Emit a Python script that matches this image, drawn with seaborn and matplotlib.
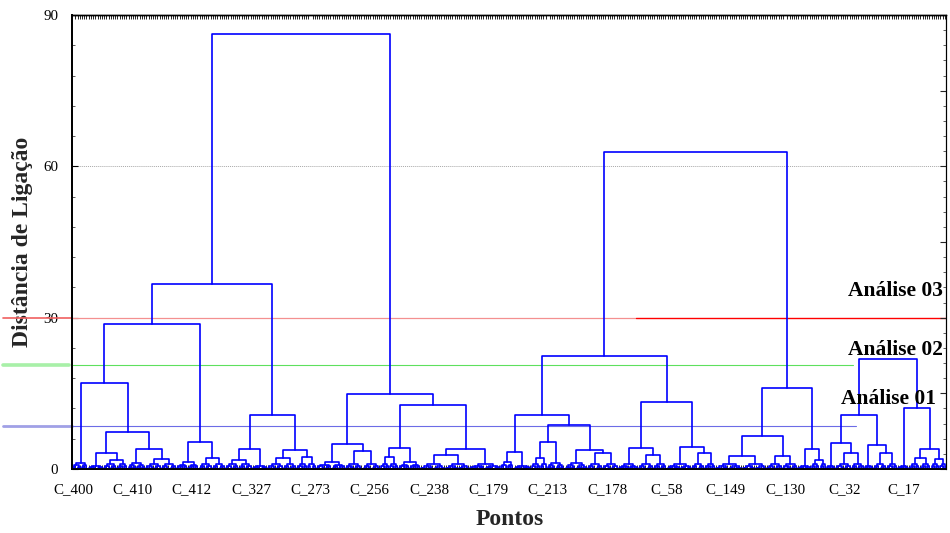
import numpy as np
import pandas as pd
import matplotlib
matplotlib.use("Agg")
import matplotlib.pyplot as plt
import matplotlib.transforms as mtransforms
import seaborn as sns

# ---------------- data ----------------
# internal node: [linkage height, left, right]; leaf group: (n_leaves, group height)
ROOT_HEIGHT = 86.2
LEFT_TREE = [36.7,
             [28.7,
              [17.0, (7, 1.2),
               [7.3,
                [3.2, (7, 0.6), (11, 1.8)],
                [4.0, (8, 1.2), (14, 2.0)]]],
              [5.4, (10, 1.4), (12, 2.2)]],
             [10.7,
              [4.0, (12, 1.8), (7, 0.6)],
              [3.8, (13, 2.2), (9, 2.4)]]]
MID_TREE = [14.9,
            [5.0, (13, 1.4), (16, 3.6)],
            [12.7,
             [4.2, (8, 2.4), (10, 1.4)],
             [4.0, (22, 2.8), (14, 1.0)]]]
RIGHT_TREE = [62.8,
              [22.4,
               [10.7,
                [3.4, (6, 1.4), (8, 0.6)],
                [8.7,
                 [5.4, (7, 2.2), (8, 1.2)],
                 [3.8, (10, 1.2), (14, 3.2)]]],
               [13.3,
                [4.2, (9, 1.0), (13, 2.8)],
                [4.4, (11, 1.0), (11, 3.2)]]],
              [16.1,
               [6.5, (23, 2.6), (14, 2.6)],
               [4.0, (6, 0.6), (7, 1.8)]]]
EDGE_TREE = [21.8,
             [10.7,
              [5.2, (4, 0.6), (13, 3.2)],
              [4.8, (4, 0.6), (11, 3.2)]],
             [12.1, (5, 0.6),
              [4.0, (10, 2.2), (7, 2.0)]]]
SUB_HEIGHTS = [0.9, 0.5, 0.25, 0.12, 0.06]

TICK_LABELS = ["C_400", "C_410", "C_412", "C_327", "C_273", "C_256", "C_238",
               "C_179", "C_213", "C_178", "C_58", "C_149", "C_130", "C_32", "C_17"]
CUT_LEVELS = [30.0, 20.6, 8.5]
CUT_NAMES = ["Análise 03", "Análise 02", "Análise 01"]

# ---------------- build segments ----------------
segments = []
leaf_counter = [0]


def add_seg(xl, hl, xr, hr, h):
    sid = len(segments)
    segments.extend([(xl, hl, sid), (xl, h, sid), (xr, h, sid), (xr, hr, sid)])


def comb(n, h, depth):
    if n == 1:
        x = leaf_counter[0]
        leaf_counter[0] += 1
        return x, 0.0
    n1 = (n + 1) // 2
    ch = min(SUB_HEIGHTS[min(depth, len(SUB_HEIGHTS) - 1)], h * 0.6)
    xl, hl = comb(n1, ch, depth + 1)
    xr, hr = comb(n - n1, ch, depth + 1)
    add_seg(xl, hl, xr, hr, h)
    return (xl + xr) / 2.0, h


def draw(node):
    if isinstance(node, tuple):
        n, h = node
        return comb(n, h, 0)
    h, left, right = node
    xl, hl = draw(left)
    xr, hr = draw(right)
    add_seg(xl, hl, xr, hr, h)
    return (xl + xr) / 2.0, h


draw([ROOT_HEIGHT, LEFT_TREE, MID_TREE])
draw(RIGHT_TREE)
draw(EDGE_TREE)
n_leaves = leaf_counter[0]
df = pd.DataFrame(segments, columns=["x", "y", "seg"])

# ---------------- plot ----------------
sns.set_theme(style="white")
plt.rcParams["font.family"] = ["Liberation Serif", "DejaVu Serif"]

fig = plt.figure(figsize=(9.5, 5.33), dpi=100)
ax = fig.add_axes([72 / 950, 64 / 533, 874 / 950, 454 / 533])

# grid lines
for g in (30, 60):
    ax.axhline(g, color="#a8a8a8", lw=0.7, ls=(0, (1, 1)), zorder=0)

sns.lineplot(data=df, x="x", y="y", units="seg", estimator=None, sort=False,
             color="#0000ff", linewidth=1.2, ax=ax, legend=False, zorder=3)

ax.set_xlim(-0.5, n_leaves - 0.5)
ax.set_ylim(0, 90)

trans = mtransforms.blended_transform_factory(ax.transAxes, ax.transData)
# red (Análise 03)
ax.plot([-0.079, 0.0], [CUT_LEVELS[0]] * 2, color="#f06060", lw=1.2, transform=trans, clip_on=False, zorder=2)
ax.plot([0.0, 0.645], [CUT_LEVELS[0]] * 2, color="#f49090", lw=0.9, transform=trans, zorder=2)
ax.plot([0.645, 1.0], [CUT_LEVELS[0]] * 2, color="#ff0000", lw=1.0, transform=trans, zorder=2)
# green (Análise 02)
ax.plot([-0.079, -0.004], [CUT_LEVELS[1]] * 2, color="#a8f0a8", lw=2.6, transform=trans, clip_on=False, zorder=2)
ax.plot([0.0, 0.894], [CUT_LEVELS[1]] * 2, color="#5ee05e", lw=0.8, transform=trans, zorder=2)
# blue (Análise 01)
ax.plot([-0.079, 0.0], [CUT_LEVELS[2]] * 2, color="#a0a0e6", lw=2.0, transform=trans, clip_on=False, zorder=2)
ax.plot([0.0, 0.897], [CUT_LEVELS[2]] * 2, color="#6c6ce6", lw=0.8, transform=trans, zorder=2)

label_pos = [(0.9966, 35.3), (0.9966, 23.6), (0.9886, 13.9)]
for (xa, ya), name in zip(label_pos, CUT_NAMES):
    ax.text(xa, ya, name, transform=trans, ha="right", va="center",
            fontsize=15.5, fontweight="bold", color="black", zorder=5)

# x ticks
step = 26.75
ax.set_xticks(np.arange(len(TICK_LABELS)) * step)
ax.set_xticklabels(TICK_LABELS, fontsize=10.8)
ax.set_xticks(np.arange(n_leaves), minor=True)
ax.tick_params(axis="x", which="major", bottom=True, top=False, length=0, pad=10, colors="black")
ax.tick_params(axis="x", which="minor", bottom=True, top=True, direction="in", length=3, width=0.6, color="black")

# y ticks (left)
ax.set_yticks([0, 30, 60, 90])
ax.set_yticklabels(["0", "30", "60", "90"], fontsize=10.8)
ax.set_yticks(np.arange(0, 91, 6), minor=True)
ax.tick_params(axis="y", which="major", left=True, direction="in", length=4, width=0.8, pad=10, colors="black")
ax.tick_params(axis="y", which="minor", left=True, direction="in", length=2.5, width=0.6, color="#444444")

# right axis ticks
ax2 = ax.twinx()
ax2.set_ylim(0, 90)
ax2.set_yticks(np.arange(0, 91, 15))
ax2.set_yticks(np.arange(0, 91, 3), minor=True)
ax2.tick_params(axis="y", which="major", right=True, direction="in", length=4, width=0.8, labelright=False)
ax2.tick_params(axis="y", which="minor", right=True, direction="in", length=2.5, width=0.6, color="#444444")
ax2.grid(False)

for a in (ax, ax2):
    for side, sp in a.spines.items():
        sp.set_color("black")
    a.spines["left"].set_linewidth(1.3)
    a.spines["bottom"].set_linewidth(1.3)
    a.spines["top"].set_linewidth(1.0)
    a.spines["right"].set_linewidth(0.8)

ax.set_xlabel("Pontos", fontsize=17, fontweight="bold")
ax.set_ylabel("Distância de Ligação", fontsize=17, fontweight="bold")
ax.xaxis.set_label_coords(0.501, -0.088)
ax.yaxis.set_label_coords(-0.045, 0.5)
ax.grid(False)

fig.savefig("out.png", dpi=100, facecolor="white")
